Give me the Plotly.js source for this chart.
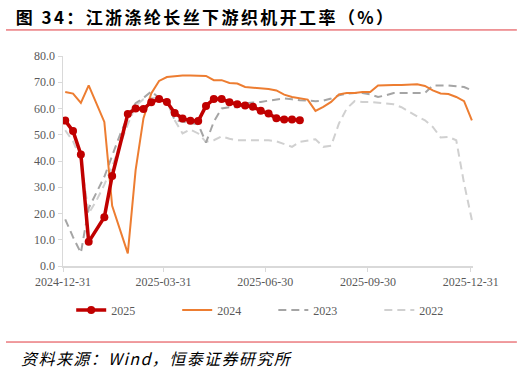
<!DOCTYPE html>
<html><head><meta charset="utf-8">
<script src="https://cdn.plot.ly/plotly-3.0.1.min.js"></script>
<style>html,body{margin:0;padding:0;background:#fff}#chart{width:525px;height:374px}
.annotation[data-index="0"] text{letter-spacing:2.4px}
.annotation[data-index="1"] text{letter-spacing:1.4px}
</style>
</head><body><div id="chart"></div>
<script>
// Weekly observation index: week 0 = 2025-01-02, then every 7 days (all years mapped onto 2025 calendar)
const startDate = '2025-01-02';
const weeks = 53;
const tickVals = ['2024-12-31','2025-03-31','2025-06-30','2025-09-30','2025-12-31'];
const tickText = ['2024-12-31','2025-03-31','2025-06-30','2025-09-30','2025-12-31'];
const seriesNames = ['2025','2024','2023','2022'];

const v2025 = [55.4,51.4,42.5,9.2,null,18.6,34.3,null,57.9,60.0,59.8,62.4,63.6,62.5,58.3,56.2,55.3,55.2,61.0,63.6,63.6,62.4,61.6,61.1,60.7,59.1,58.1,56.3,55.8,55.8,55.5];
const v2024 = [66.3,65.7,62.1,68.8,null,54.9,22.9,null,4.8,36.5,56.2,65.7,70.5,72.0,72.3,72.6,72.6,72.6,72.4,70.8,70.8,69.7,69.5,68.2,68.0,67.6,67.4,66.9,65.3,64.4,63.9,63.4,59.1,60.6,62.5,65.4,65.9,65.9,66.3,66.3,68.8,69.0,69.0,69.0,69.2,69.2,68.6,66.9,65.7,65.5,64.4,62.8,55.5];
const v2023 = [17.8,11.0,5.0,22.0,28.0,34.0,42.0,50.0,57.0,62.0,64.0,66.5,64.0,63.0,55.5,55.0,54.5,54.0,47.0,55.0,60.0,60.5,60.5,62.0,62.3,62.5,63.0,63.5,63.8,63.5,63.1,63.0,62.8,63.0,63.8,65.0,65.7,65.9,65.9,65.4,64.4,65.0,65.9,65.9,65.9,65.9,65.9,68.8,68.8,68.8,68.5,68.2,66.9];
const v2022 = [51.7,47.5,40.5,20.0,25.0,31.0,38.0,46.0,54.0,61.0,63.5,64.0,64.0,62.5,55.5,50.5,52.0,50.5,47.3,47.9,49.4,48.5,47.9,47.9,47.9,47.9,47.9,47.5,46.5,45.4,47.3,47.9,48.3,45.4,45.8,54.3,60.0,62.8,62.5,62.5,62.2,61.9,61.6,60.5,58.7,57.0,55.5,53.0,49.0,49.2,47.9,31.5,17.5];

function weekDates(n){
  const out=[]; const d0=new Date(startDate+'T00:00:00Z');
  for(let i=0;i<n;i++){const d=new Date(d0.getTime()+i*7*86400000);out.push(d.toISOString().slice(0,10));}
  return out;
}
const dates = weekDates(weeks);

const traces = [
  {x:dates.slice(0,v2025.length), y:v2025, name:seriesNames[0], type:'scatter', mode:'lines+markers', connectgaps:true,
   line:{color:'#C00000', width:3.5}, marker:{color:'#C00000', size:8}, legend:'legend'},
  {x:dates.slice(0,v2024.length), y:v2024, name:seriesNames[1], type:'scatter', mode:'lines', connectgaps:true,
   line:{color:'#ED7D31', width:2}, legend:'legend'},
  {x:dates.slice(0,v2023.length), y:v2023, name:seriesNames[2], type:'scatter', mode:'lines', connectgaps:true,
   line:{color:'#A5A5A5', width:2, dash:'8px,5px'}, legend:'legend2'},
  {x:dates.slice(0,v2022.length), y:v2022, name:seriesNames[3], type:'scatter', mode:'lines', connectgaps:true,
   line:{color:'#D0D0D0', width:2, dash:'8px,5px'}, legend:'legend2'}
];

const serif = '"Times New Roman","Liberation Serif",serif';
const legendBase = {orientation:'h', yanchor:'middle', y:-0.21, xanchor:'left',
  font:{family:serif, size:12, color:'#595959'}, entrywidth:61, traceorder:'reversed', bgcolor:'rgba(0,0,0,0)'};
const layout = {
  width:525, height:374,
  margin:{l:63, r:52, t:56, b:108},
  paper_bgcolor:'#fff', plot_bgcolor:'#fff',
  showlegend:true,
  legend:Object.assign({}, legendBase, {x:0.02}),
  legend2:Object.assign({}, legendBase, {x:0.513}),
  xaxis:{type:'date', range:['2024-12-31','2026-01-02'], tickvals:tickVals, ticktext:tickText,
         showgrid:false, zeroline:false, showline:true, linecolor:'#D9D9D9', linewidth:1.5,
         ticks:'outside', ticklen:4, tickcolor:'#D9D9D9',
         tickfont:{family:serif, size:12, color:'#595959'}},
  yaxis:{range:[0,80], dtick:10, tickformat:'.1f', showgrid:false, zeroline:false,
         showline:true, linecolor:'#D9D9D9', linewidth:1.5, ticks:'outside', ticklen:4, tickcolor:'#D9D9D9',
         tickfont:{family:serif, size:12, color:'#595959'}},
  shapes:[
    {type:'line', xref:'paper', yref:'paper', x0:-0.139, x1:1.107, y0:1.124, y1:1.124, line:{color:'#E0383E', width:1}},
    {type:'line', xref:'paper', yref:'paper', x0:-0.139, x1:1.107, y0:-0.362, y1:-0.362, line:{color:'#E0383E', width:1}}
  ],
  annotations:[
    {xref:'paper', yref:'paper', x:-0.058, y:1.19, xanchor:'left', yanchor:'middle', showarrow:false,
     text:'<b>图 34：江浙涤纶长丝下游织机开工率（%）</b>', font:{family:'"Noto Sans CJK SC",sans-serif', size:17, color:'#000'}},
    {xref:'paper', yref:'paper', x:-0.079, y:-0.438, xanchor:'left', yanchor:'middle', showarrow:false,
     text:'<i>资料来源：Wind，恒泰证券研究所</i>', font:{family:'"Noto Sans CJK SC",sans-serif', size:16, color:'#000'}}
  ]
};
// 2025 drawn on top (last); legends reversed so they read 2025, 2024 | 2023, 2022
Plotly.newPlot('chart', [traces[3],traces[2],traces[1],traces[0]], layout, {staticPlot:true, displayModeBar:false});
</script></body></html>
